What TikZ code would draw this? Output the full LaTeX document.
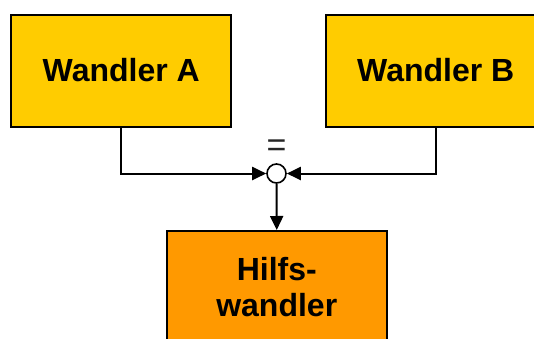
\documentclass[tikz,border=0pt]{standalone}
\usepackage{fontspec}
\setmainfont{Liberation Sans}
\usetikzlibrary{arrows.meta}
\definecolor{boxyellow}{HTML}{FFCC00}
\definecolor{boxorange}{HTML}{FF9900}
\tikzset{
  block/.style={draw=black, line width=2bp, minimum width=219.5bp, minimum height=112bp,
    inner sep=0pt, font=\fontsize{32bp}{36.7bp}\selectfont\bfseries, align=center},
  junction/.style={draw=black, fill=white, circle, line width=1.6bp, minimum size=19bp, inner sep=0pt},
  link/.style={line width=2bp, -{Triangle[length=14bp,width=13bp]}},
}
\begin{document}
\begin{tikzpicture}[x=1bp, y=-1bp]
  \useasboundingbox (0,0) rectangle (534,338);
  % two converters feeding the summing point
  \node[block, fill=boxyellow] (a) at (121.25,70.5) {Wandler A};
  \node[block, fill=boxyellow] (b) at (435.75,70.5) {Wandler B};
  % auxiliary converter below
  \node[block, fill=boxorange] (h) at (276.75,287) {Hilfs-\\wandler};
  % summing point with its sign
  \node[junction] (j) at (276.5,173.5) {};
  \node[font=\fontsize{34bp}{34bp}\selectfont, text=black!85, inner sep=0pt] (eq) at (276.5,148) {=};
  % connectors
  \draw[link] (a.south) |- (j.west);
  \draw[link] (b.south) |- (j.east);
  \draw[link] (j.south) -- (h.north);
\end{tikzpicture}
\end{document}
